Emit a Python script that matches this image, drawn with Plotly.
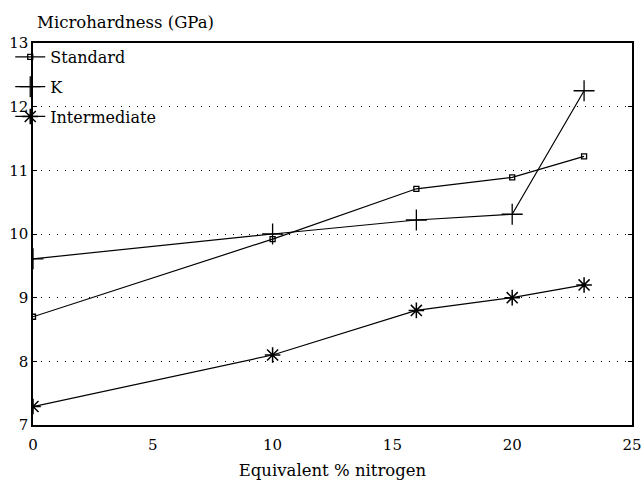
import plotly.graph_objects as go

x_std = [0, 10, 16, 20, 23]
y_std = [8.70, 9.92, 10.71, 10.89, 11.22]
x_k = [0, 10, 16, 20, 23]
y_k = [9.61, 10.0, 10.22, 10.31, 12.25]
x_int = [0, 10, 16, 20, 23]
y_int = [7.29, 8.1, 8.8, 9.0, 9.2]

FONT = "DejaVu Serif"

fig = go.Figure()
fig.add_trace(go.Scatter(x=x_std, y=y_std, name="Standard", mode="lines+markers", legendgroup="a",
                         line=dict(color="black", width=1.2),
                         marker=dict(symbol="square-open", size=5, color="black", line=dict(width=1.3))))
fig.add_trace(go.Scatter(x=x_k, y=y_k, name="K", mode="lines+markers", legendgroup="b",
                         line=dict(color="black", width=1.2),
                         marker=dict(symbol="cross-thin-open", size=15, color="black", line=dict(width=1.3, color="black"))))
fig.add_trace(go.Scatter(x=x_int, y=y_int, name="Intermediate", mode="lines+markers", legendgroup="c",
                         line=dict(color="black", width=1.2),
                         marker=dict(symbol="asterisk-open", size=13, color="black", line=dict(width=1.5, color="black"))))

fig.update_layout(
    width=644, height=483,
    margin=dict(l=33, r=12, t=43, b=58, autoexpand=False),
    paper_bgcolor="white", plot_bgcolor="white",
    font=dict(family=FONT, size=15, color="black"),
    showlegend=True,
    legend=dict(x=-0.038, y=1.008, xanchor="left", yanchor="top", bgcolor="rgba(0,0,0,0)",
                itemwidth=30, font=dict(size=16, family=FONT), tracegroupgap=6,
                traceorder="grouped"),
    annotations=[
        dict(text="Microhardness (GPa)", xref="paper", yref="paper", x=0.003, y=1.053,
             xanchor="left", yanchor="middle", showarrow=False,
             font=dict(size=16.5, family=FONT)),
    ],
)

fig.update_xaxes(range=[0, 25], tickvals=[0, 5, 10, 15, 20, 25], showgrid=False,
                 showline=True, mirror=True, linecolor="black", linewidth=1.5,
                 ticks="outside", ticklen=5, tickcolor="rgba(0,0,0,0)", zeroline=False,
                 automargin=False,
                 title=dict(text="Equivalent % nitrogen", font=dict(size=16.5, family=FONT), standoff=12),
                 tickfont=dict(size=15, family=FONT))
fig.update_yaxes(range=[7, 13], tickvals=[7, 8, 9, 10, 11, 12, 13], showgrid=True,
                 gridcolor="black", gridwidth=1, griddash="1px,7px",
                 showline=True, mirror="ticks", linecolor="black", linewidth=1.5,
                 ticks="inside", ticklen=4, tickcolor="black", zeroline=False,
                 automargin=False,
                 tickfont=dict(size=15, family=FONT))

fig.write_html("out.html")
